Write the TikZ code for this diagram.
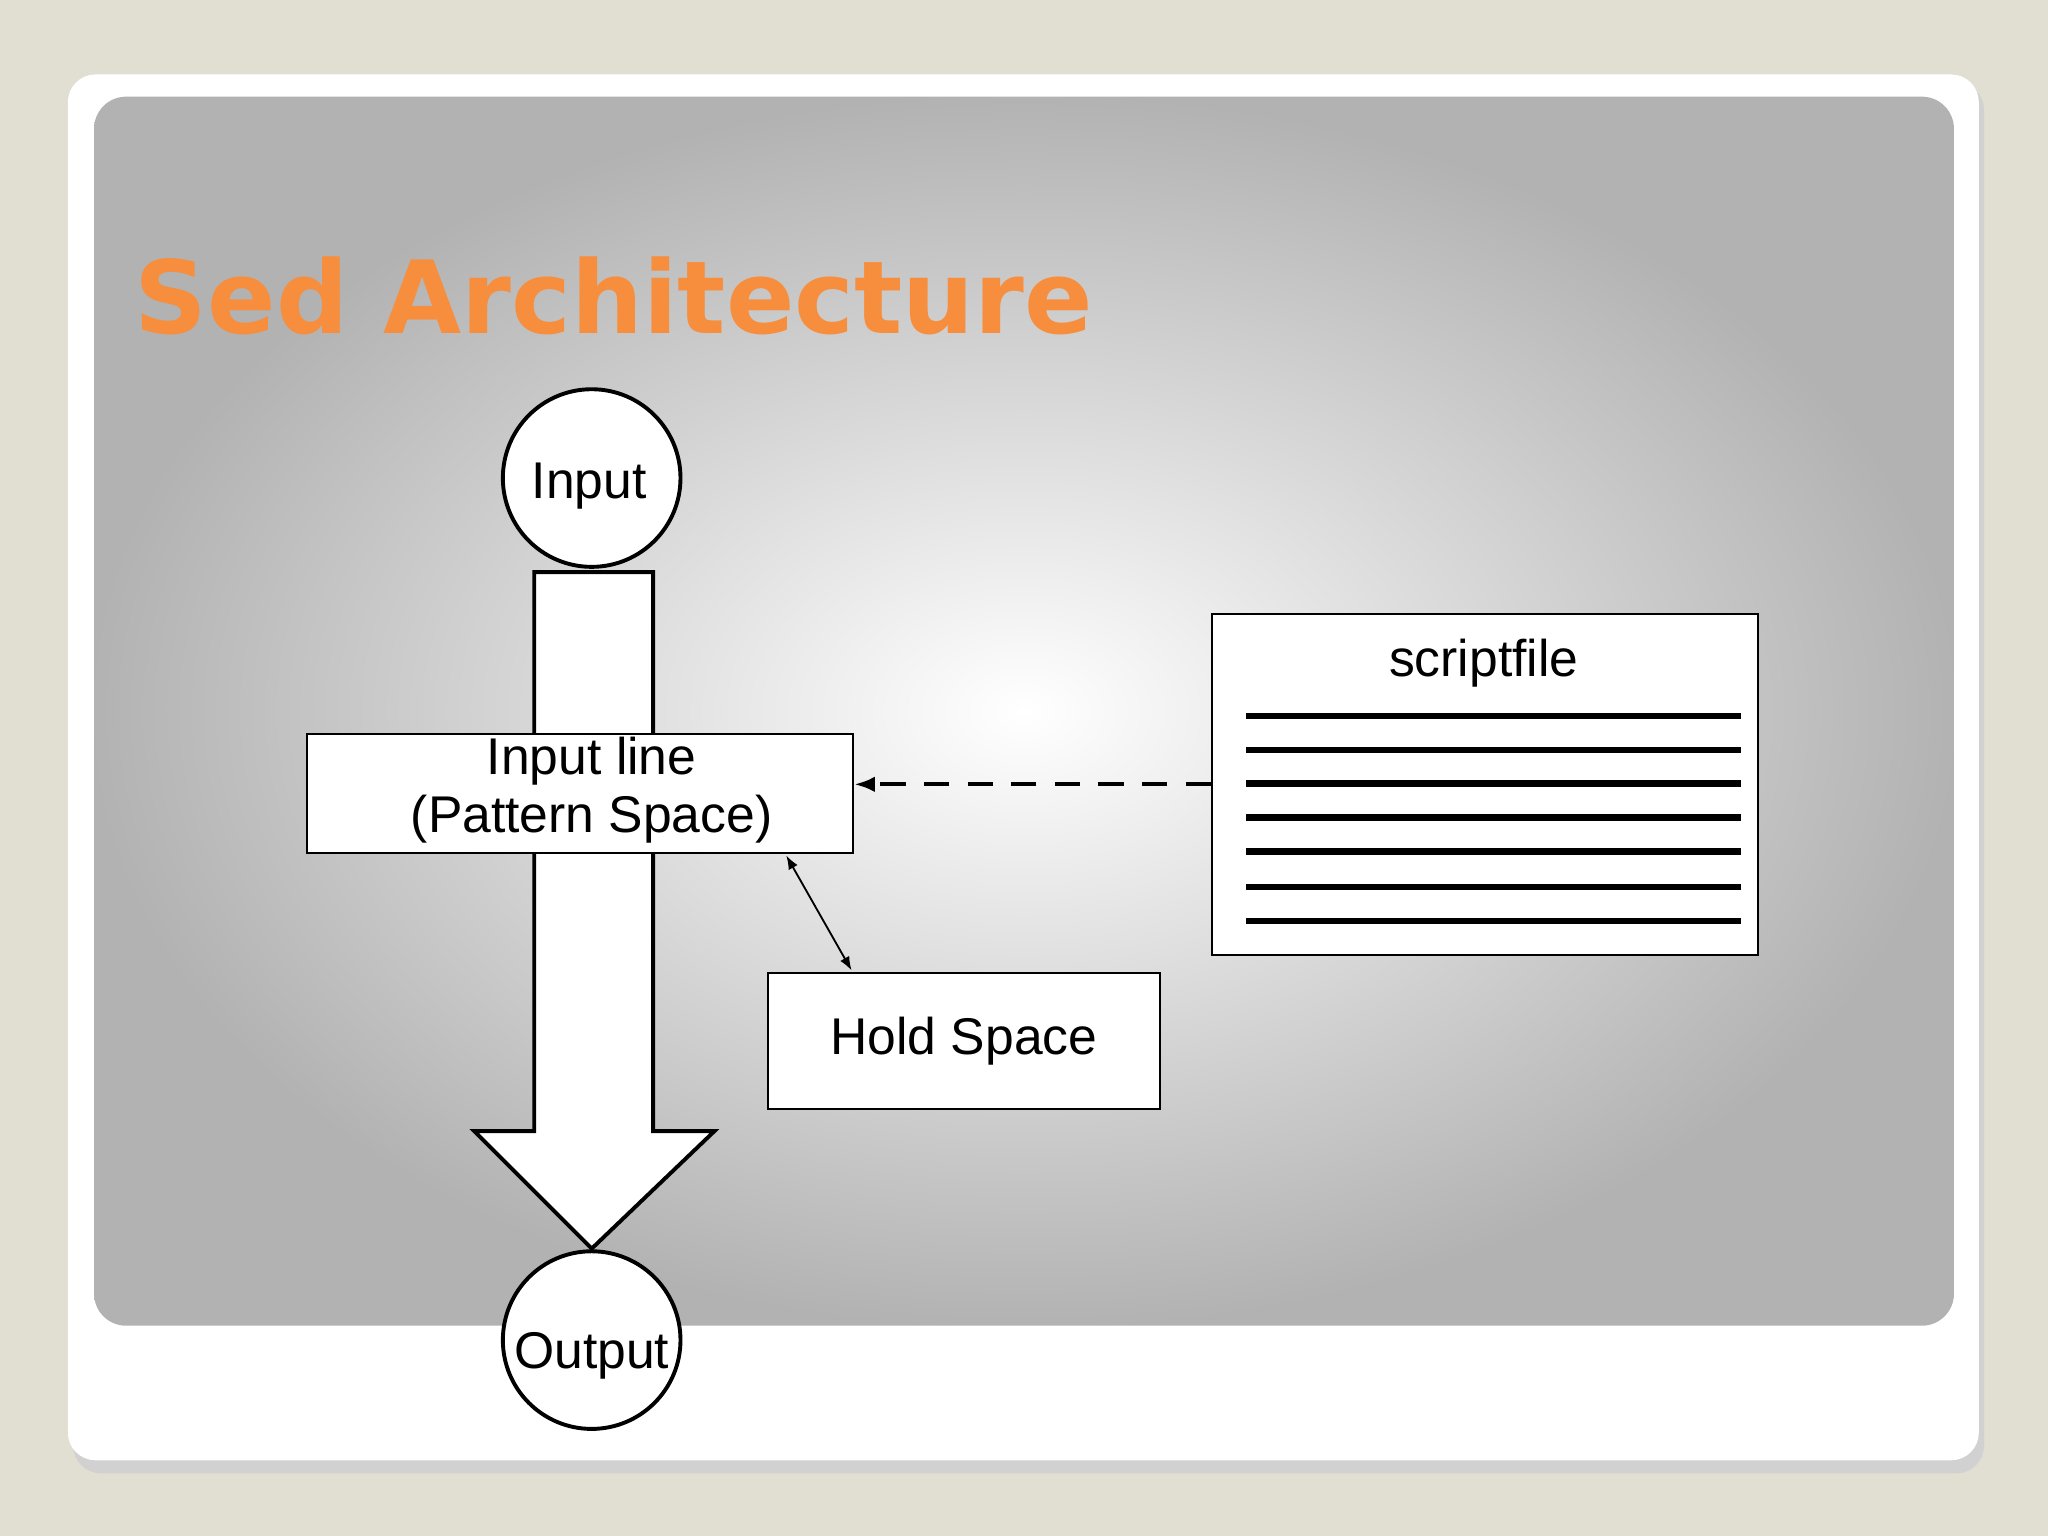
\documentclass[tikz,border=0pt]{standalone}
\usepackage{fontspec}
\setmainfont{Liberation Sans}
\newfontfamily\titlefont{DejaVu Sans}
\usetikzlibrary{arrows.meta}
\definecolor{bgbeige}{RGB}{225,222,210}
\definecolor{titleor}{RGB}{247,142,61}
\tikzset{
  lbl/.style={font=\fontsize{22.5}{27}\selectfont,align=center},
  boxstyle/.style={draw=black,fill=white,line width=1.1pt},
  circstyle/.style={draw=black,fill=white,line width=1.7pt,circle,minimum size=136*0.02cm,inner sep=0pt},
  scriptline/.style={line width=2.8pt}
}
\begin{document}
\begin{tikzpicture}[x=0.02cm,y=-0.02cm]
\useasboundingbox (0,0) rectangle (1568,1176);
\fill[bgbeige] (0,0) rectangle (1568,1176);
\fill[black!18,rounded corners=12] (56,63) rectangle (1519,1128);
\fill[white,rounded corners=12] (52,57) rectangle (1515,1118);
\shade[rounded corners=14,inner color=white,outer color=black!30] (72,74) rectangle (1496,1015);
\node[anchor=base west,inner sep=0pt,text=titleor] (title) at (103,255) {\titlefont\bfseries\fontsize{44}{48}\selectfont Sed Architecture};
% big arrow
\draw[boxstyle,line width=1.7pt] (409,438) -- (500,438) -- (500,866) -- (547,866) -- (453,956) -- (363,866) -- (409,866) -- cycle;
\node[circstyle] (input) at (453,366) {};
\node[lbl] (intxt) at (451,372) {Input};
\node[circstyle] (output) at (453,1026) {};
\node[lbl] (outtxt) at (453,1038) {Output};
\node[boxstyle,minimum width=418*0.02cm,minimum height=91*0.02cm,inner sep=0pt] (ps) at (444,607.5) {};
\node[lbl] (pstxt) at (453,605) {Input line\\[-2pt](Pattern Space)};
\node[boxstyle,lbl,minimum width=300*0.02cm,minimum height=104*0.02cm] (hold) at (738,797) {Hold Space};
\node[boxstyle,minimum width=418*0.02cm,minimum height=261*0.02cm] (script) at (1137,600.5) {};
\node[lbl] (stxt) at (1136,508) {scriptfile};
\foreach \yy in {548,574,600,626,652,679,705} \draw[scriptline] (954,\yy) -- (1333,\yy);
\draw[-{Latex[length=9pt]},line width=1.7pt,dash pattern=on 11pt off 8pt] (script.west) -- (script.west -| ps.east);
\coordinate (a1) at (602,655);
\coordinate (a2) at (652,743);
\draw[{Latex[length=6pt]}-{Latex[length=6pt]},line width=0.8pt] (a1) -- (a2);
\end{tikzpicture}
\end{document}
